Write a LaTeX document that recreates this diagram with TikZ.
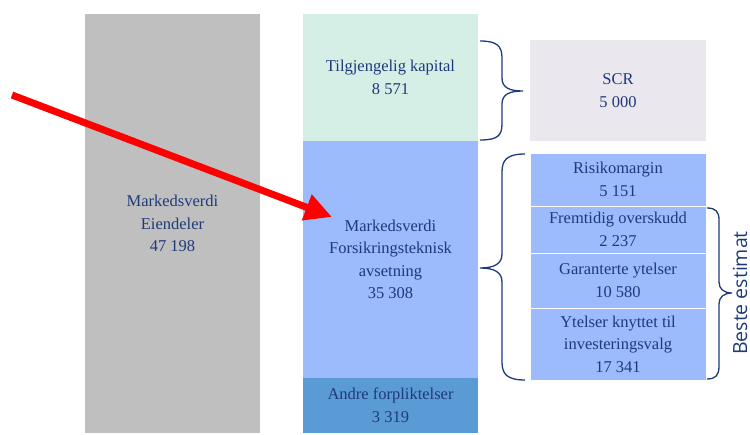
\documentclass[tikz,border=0pt]{standalone}
\usepackage{fontspec}
\setmainfont{Liberation Serif}
\newfontfamily\labelsans{Open Sans}
\usepackage{tikz}
\usetikzlibrary{arrows.meta}

\definecolor{navy}{HTML}{1F3A7A}
\definecolor{assetgray}{HTML}{BFBFBF}
\definecolor{capgreen}{HTML}{D5EFE6}
\definecolor{liabblue}{HTML}{9BBBFD}
\definecolor{otherblue}{HTML}{5B9BD5}
\definecolor{scrgray}{HTML}{EBE7EE}
\definecolor{arrowred}{HTML}{FF0000}

\tikzset{
  block/.style={rectangle,inner sep=0pt,text=navy,align=center,
    font=\fontsize{16.5}{22.5}\selectfont,minimum width=175pt},
  brace/.style={draw=navy,line width=1.3pt}
}

\begin{document}
\begin{tikzpicture}[x=1pt,y=-1pt]
		\useasboundingbox (0,0) rectangle (750,435);
		\node[block,fill=assetgray,minimum height=419pt] (eiendeler) at (172.5,223.5) {Markedsverdi\\Eiendeler\\47 198};
		\node[block,fill=capgreen,minimum height=127pt] (kapital) at (390.5,77.5) {Tilgjengelig kapital\\8 571};
		\node[block,fill=liabblue,minimum height=237pt] (fts) at (390.5,259.5) {Markedsverdi\\Forsikringsteknisk\\avsetning\\35 308};
		\node[block,fill=otherblue,minimum height=55pt] (andre) at (390.5,405.5) {Andre forpliktelser\\3 319};
		\node[block,fill=scrgray,minimum width=176pt,minimum height=101pt] (scr) at (618,90.5) {SCR\\5 000};
		\node[block,fill=liabblue,draw=white,minimum width=176pt,minimum height=53pt] (risiko) at (618,179.5) {Risikomargin\\5 151};
		\node[block,fill=liabblue,draw=white,minimum width=176pt,minimum height=47pt] (overskudd) at (618,229.5) {Fremtidig overskudd\\2 237};
		\node[block,fill=liabblue,draw=white,minimum width=176pt,minimum height=55pt] (garanti) at (618,280.5) {Garanterte ytelser\\10 580};
		\node[block,fill=liabblue,draw=white,minimum width=176pt,minimum height=72pt] (invest) at (618,344) {Ytelser knyttet til\\investeringsvalg\\17 341};

		% brace: available capital -> SCR
		\coordinate (B1a) at (480,41);
		\coordinate (B1b) at (480,140);
		\coordinate (B1t) at (523,91);
		\draw[brace] (B1a) .. controls (497,41) and (502,46) .. (502,58) -- (502,78)
		  .. controls (502,88) and (510,91) .. (B1t)
		  .. controls (510,91) and (502,94) .. (502,104) -- (502,124)
		  .. controls (502,136) and (497,140) .. (B1b);

		% brace: technical provisions -> breakdown
		\coordinate (B2a) at (525,154);
		\coordinate (B2b) at (525,380);
		\coordinate (B2t) at (480,268);
		\draw[brace] (B2a) .. controls (507,154) and (502,160) .. (502,172) -- (502,254)
		  .. controls (502,264) and (494,268) .. (B2t)
		  .. controls (494,268) and (502,272) .. (502,282) -- (502,362)
		  .. controls (502,374) and (507,380) .. (B2b);

		% brace: best estimate
		\coordinate (B3a) at (707,208);
		\coordinate (B3b) at (707,379);
		\coordinate (B3t) at (732,293);
		\draw[brace] (B3a) .. controls (716,208) and (719,212) .. (719,220) -- (719,282)
		  .. controls (719,289) and (724,293) .. (B3t)
		  .. controls (724,293) and (719,297) .. (719,304) -- (719,366)
		  .. controls (719,375) and (716,379) .. (B3b);
		\node[text=navy,font=\labelsans\fontsize{19.5}{22}\selectfont,rotate=90,inner sep=0pt,anchor=south] (beste) at (747.5,293) {Beste estimat};

		\coordinate (pilstart) at (12,95);
		\coordinate (pilend) at (332,217);
		\draw[arrowred,line width=7pt,-{Triangle[length=27pt,width=26pt]}] (pilstart) -- (pilend);
	    \end{tikzpicture}
\end{document}
